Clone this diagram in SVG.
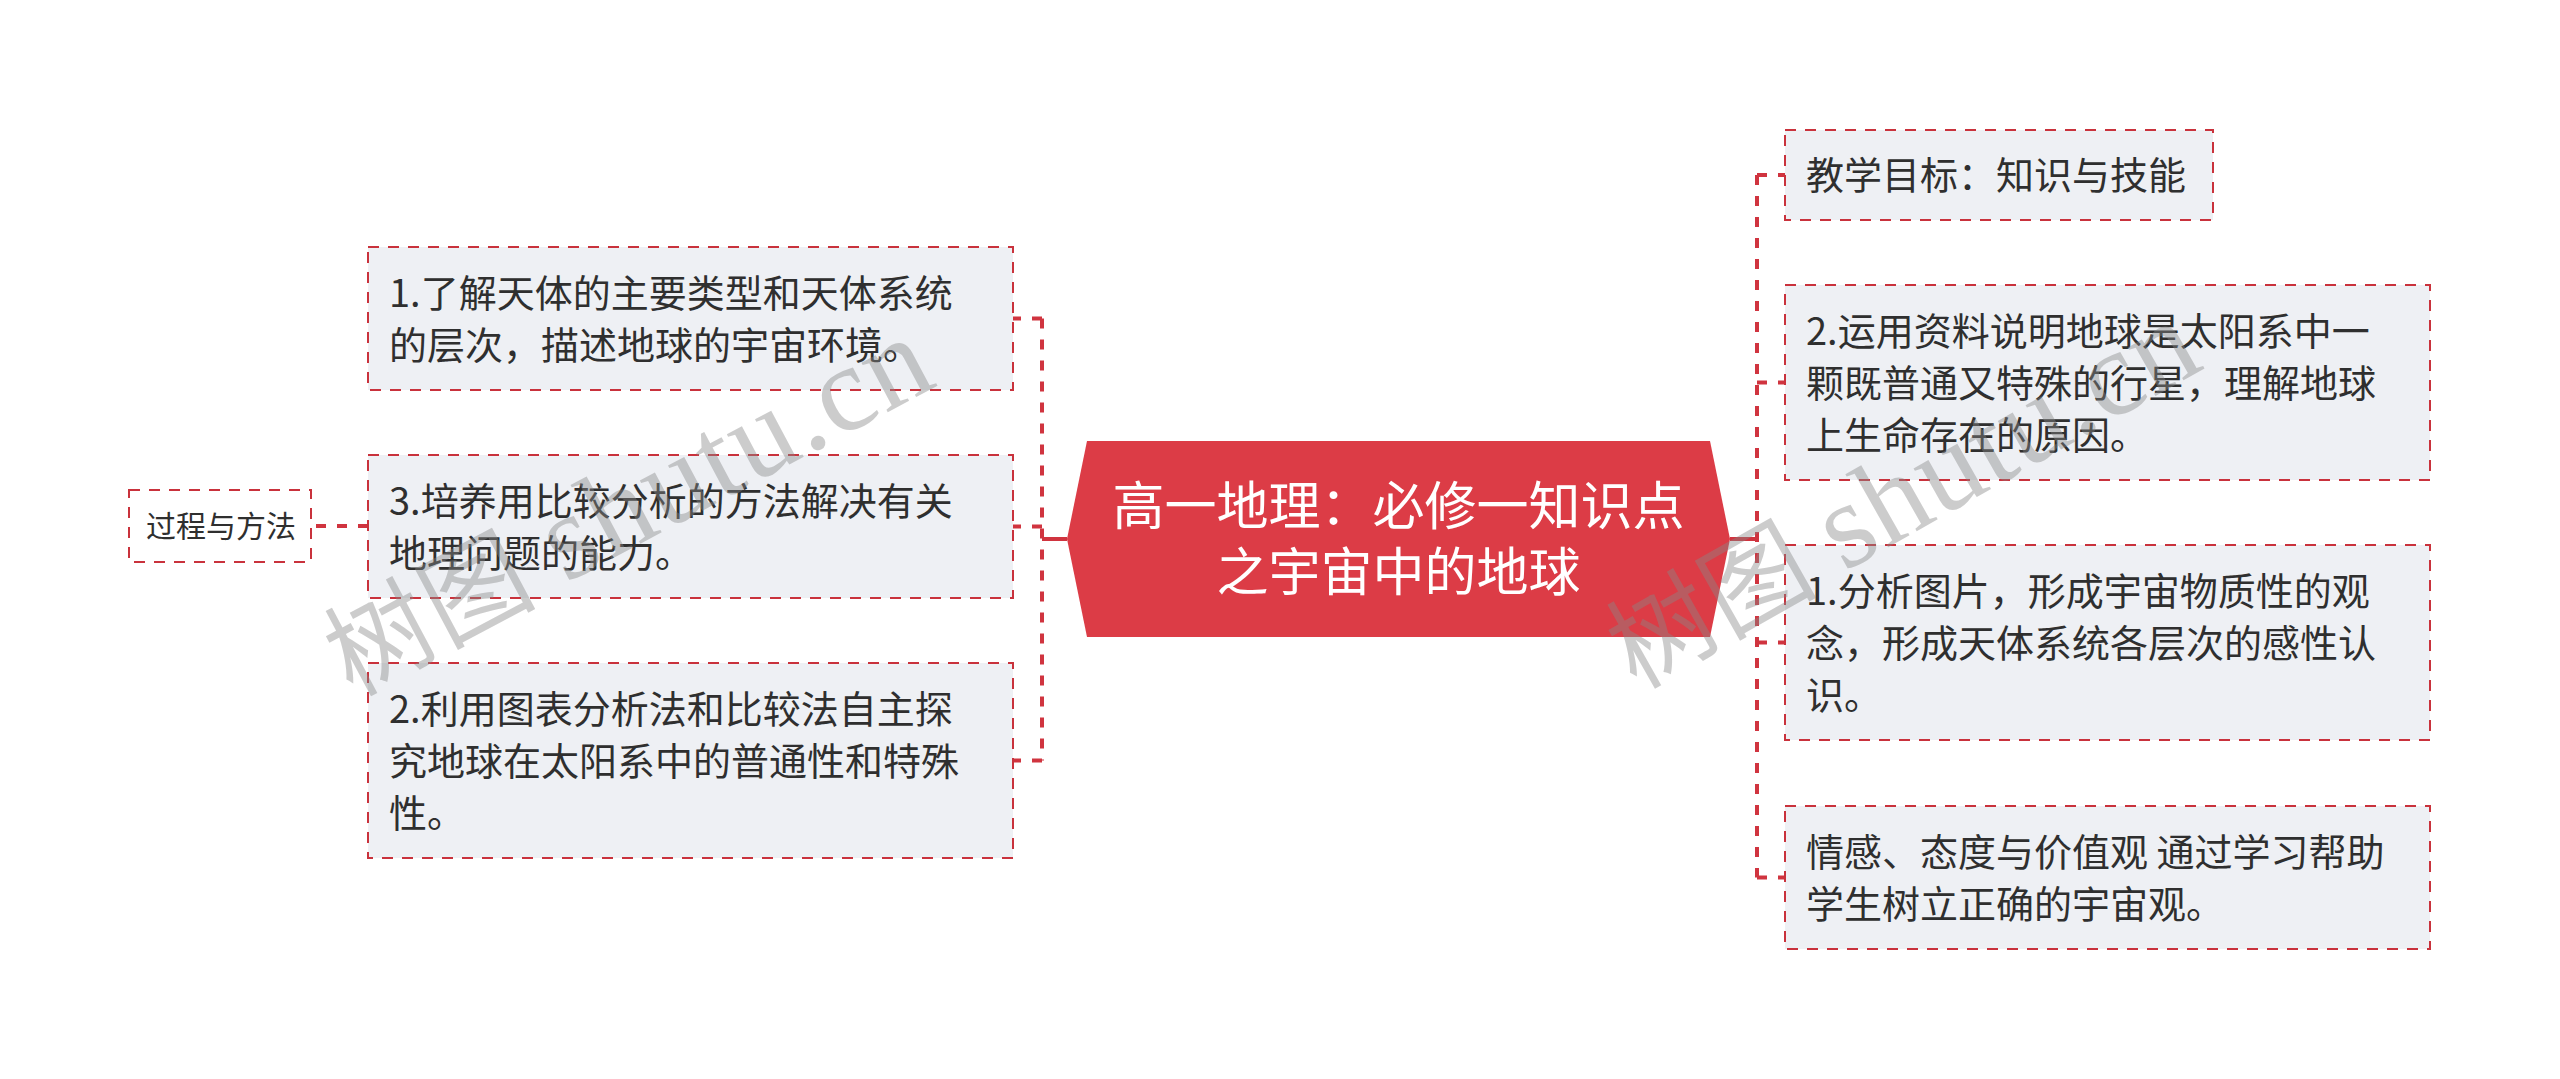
<svg xmlns="http://www.w3.org/2000/svg" width="2560" height="1079" viewBox="0 0 2560 1079">
<style>
.bg{fill:#ffffff}
.box{fill:#eef0f4;stroke:#c9323c;stroke-width:2;stroke-dasharray:11 9}
.sbox{fill:#ffffff;stroke:#c9323c;stroke-width:2;stroke-dasharray:11 9}
.center{fill:#dc3c46}
.t{font-family:"Noto Sans CJK SC","Noto Sans",sans-serif;font-size:38px;fill:#2f2f2f}
.ts{font-family:"Noto Sans CJK SC","Noto Sans",sans-serif;font-size:30px;fill:#2f2f2f}
.tc{font-family:"Noto Sans CJK SC","Noto Sans",sans-serif;font-size:52px;fill:#ffffff;text-anchor:middle}
.conn{fill:none;stroke:#d0343f;stroke-width:4;stroke-dasharray:10 11}
.stem{fill:none;stroke:#d0343f;stroke-width:4}
.wm{font-family:"Liberation Serif","Noto Sans CJK SC",serif;font-size:105px;fill:#888888;opacity:0.42}
.wml{font-size:122px}
</style>
<rect class="bg" x="0" y="0" width="2560" height="1079"/>
<g id="connectors">
<path class="stem" d="M1067 539 H1042"/>
<path class="conn" d="M1042 318.5 V760.5"/>
<path class="conn" d="M1042 318.5 H1013"/>
<path class="conn" d="M1042 526.5 H1013"/>
<path class="conn" d="M1042 760.5 H1013"/>
<path class="conn" d="M368 526 H311"/>
<path class="stem" d="M1730 539 H1757"/>
<path class="conn" d="M1757 175 V877.5"/>
<path class="conn" d="M1757 175 H1785"/>
<path class="conn" d="M1757 382.5 H1785"/>
<path class="conn" d="M1757 642.5 H1785"/>
<path class="conn" d="M1757 877.5 H1785"/>
</g>
<g id="center">
<polygon class="center" points="1067,539 1087,441 1710,441 1730,539 1710,637 1087,637"/>
<text class="tc" x="1398.5" y="525">高一地理：必修一知识点</text>
<text class="tc" x="1398.5" y="591">之宇宙中的地球</text>
</g>
<g id="L1">
<rect class="box" x="368" y="247" width="645" height="143"/>
<text class="t" x="389" y="306.5">1.了解天体的主要类型和天体系统</text>
<text class="t" x="389" y="358.5">的层次，描述地球的宇宙环境。</text>
</g>
<g id="L2">
<rect class="box" x="368" y="455" width="645" height="143"/>
<text class="t" x="389" y="514.5">3.培养用比较分析的方法解决有关</text>
<text class="t" x="389" y="566.5">地理问题的能力。</text>
</g>
<g id="L3">
<rect class="box" x="368" y="663" width="645" height="195"/>
<text class="t" x="389" y="722.5">2.利用图表分析法和比较法自主探</text>
<text class="t" x="389" y="774.5">究地球在太阳系中的普通性和特殊</text>
<text class="t" x="389" y="826.5">性。</text>
</g>
<g id="S">
<rect class="sbox" x="129" y="490" width="182" height="72"/>
<text class="ts" x="146" y="537">过程与方法</text>
</g>
<g id="R1">
<rect class="box" x="1785" y="130" width="428" height="90"/>
<text class="t" x="1806" y="189">教学目标：知识与技能</text>
</g>
<g id="R2">
<rect class="box" x="1785" y="285" width="645" height="195"/>
<text class="t" x="1806" y="344.5">2.运用资料说明地球是太阳系中一</text>
<text class="t" x="1806" y="396.5">颗既普通又特殊的行星，理解地球</text>
<text class="t" x="1806" y="448.5">上生命存在的原因。</text>
</g>
<g id="R3">
<rect class="box" x="1785" y="545" width="645" height="195"/>
<text class="t" x="1806" y="604.5">1.分析图片，形成宇宙物质性的观</text>
<text class="t" x="1806" y="656.5">念，形成天体系统各层次的感性认</text>
<text class="t" x="1806" y="708.5">识。</text>
</g>
<g id="R4">
<rect class="box" x="1785" y="806" width="645" height="143"/>
<text class="t" x="1806" y="865.5">情感、态度与价值观 通过学习帮助</text>
<text class="t" x="1806" y="917.5">学生树立正确的宇宙观。</text>
</g>
<g id="watermark">
<text class="wm" x="352" y="697" transform="rotate(-28 352 697)" textLength="665" lengthAdjust="spacing">树图 <tspan class="wml">shutu.cn</tspan></text>
<text class="wm" x="1636" y="690" transform="rotate(-29.5 1636 690)" textLength="655" lengthAdjust="spacing">树图 <tspan class="wml">shutu.cn</tspan></text>
</g>
</svg>
